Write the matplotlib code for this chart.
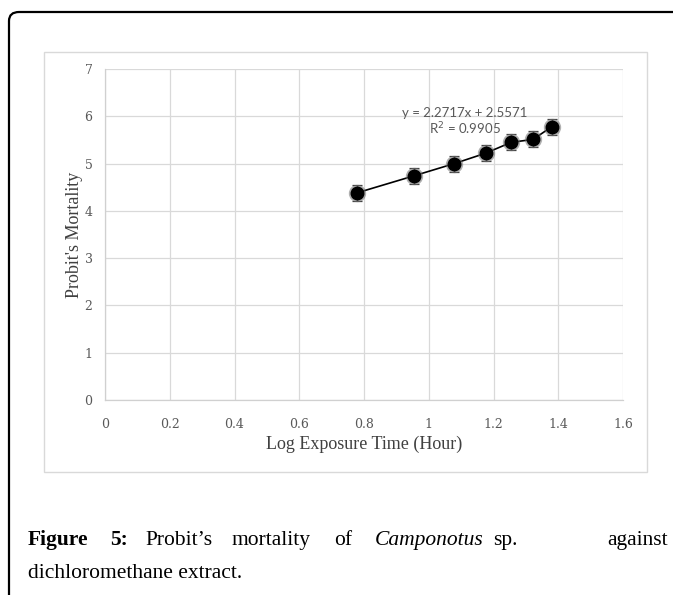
import matplotlib
matplotlib.use("Agg")
import matplotlib.pyplot as plt
from matplotlib.patches import FancyBboxPatch, Rectangle

log_time = [0.778, 0.954, 1.079, 1.176, 1.255, 1.322, 1.380]
probit = [4.38, 4.74, 5.00, 5.22, 5.45, 5.51, 5.78]
err = [0.17, 0.17, 0.17, 0.17, 0.17, 0.17, 0.17]
x_ticks = [0, 0.2, 0.4, 0.6, 0.8, 1, 1.2, 1.4, 1.6]
x_tick_labels = ["0", "0.2", "0.4", "0.6", "0.8", "1", "1.2", "1.4", "1.6"]
y_ticks = [0, 1, 2, 3, 4, 5, 6, 7]

W, H = 673, 595
fig = plt.figure(figsize=(W / 100, H / 100), dpi=100)

def fx(px):
    return px / W

def fy(py):
    return 1 - py / H

# outer rounded border (extends beyond right/bottom edges)
outer = FancyBboxPatch((fx(9), fy(640)), fx(720) - fx(9), fy(12) - fy(640),
                       boxstyle="round,pad=0,rounding_size=0.015",
                       transform=fig.transFigure, fill=False,
                       edgecolor="black", linewidth=1.6, clip_on=False)
fig.patches.append(outer)

# inner chart box
inner = Rectangle((fx(44), fy(472)), fx(647) - fx(44), fy(52) - fy(472),
                  transform=fig.transFigure, fill=False,
                  edgecolor="#d9d9d9", linewidth=1.0)
fig.patches.append(inner)

ax = fig.add_axes([fx(105), fy(400), fx(623) - fx(105), fy(69) - fy(400)])
ax.set_xlim(0, 1.6)
ax.set_ylim(0, 7)
ax.set_xticks(x_ticks)
ax.set_xticklabels(x_tick_labels)
ax.set_yticks(y_ticks)
ax.grid(True, color="#d9d9d9", linewidth=0.9)
ax.set_axisbelow(True)
for s in ["top", "right"]:
    ax.spines[s].set_visible(False)
for s in ["left", "bottom"]:
    ax.spines[s].set_color("#d0d0d0")
    ax.spines[s].set_linewidth(0.9)
ax.tick_params(axis="x", length=0, colors="#595959", pad=13)
ax.tick_params(axis="y", length=0, colors="#595959", pad=9)
for lab in ax.get_xticklabels() + ax.get_yticklabels():
    lab.set_fontfamily("DejaVu Serif")
    lab.set_fontsize(9)

ax.errorbar(log_time, probit, yerr=err, fmt="none", ecolor="#404040",
            elinewidth=0.9, capsize=3.5, capthick=0.9, zorder=3)
ax.plot(log_time, probit, color="black", linewidth=1.2, zorder=4)
ax.plot(log_time, probit, linestyle="none", marker="o", markersize=12.5,
        markerfacecolor="#707070", markeredgecolor="none", alpha=0.55, zorder=5)
ax.plot(log_time, probit, linestyle="none", marker="o", markersize=9,
        markerfacecolor="black", markeredgecolor="black", zorder=6)

ax.set_xlabel("Log Exposure Time (Hour)", fontfamily="Liberation Serif",
              fontsize=13, color="#404040", labelpad=3)
ax.set_ylabel("Probit's Mortality", fontfamily="Liberation Serif",
              fontsize=13, color="#404040", labelpad=1)

fig.text(fx(465), fy(113), "y = 2.2717x + 2.5571", ha="center", va="center",
         fontfamily="Lato", fontsize=9.5, color="#595959")
fig.text(fx(465), fy(129), "R$^2$ = 0.9905", ha="center", va="center",
         fontfamily="Lato", fontsize=9.5, color="#595959")

# caption, first line laid out word by word as in the reference
cap_fs = 15.5
line1 = [("Figure", "bold", "normal", 28, "left"),
         ("5:", "bold", "normal", 110, "left"),
         ("Probit\u2019s", "normal", "normal", 145, "left"),
         ("mortality", "normal", "normal", 232, "left"),
         ("of", "normal", "normal", 334, "left"),
         ("Camponotus", "normal", "italic", 375, "left"),
         ("sp.", "normal", "normal", 493, "left"),
         ("against", "normal", "normal", 668, "right")]
for w, weight, style, px, ha in line1:
    fig.text(fx(px), fy(545), w, ha=ha, va="baseline", fontfamily="Liberation Serif",
             fontsize=cap_fs, fontweight=weight, fontstyle=style, color="black")
fig.text(fx(28), fy(578), "dichloromethane extract.", ha="left", va="baseline",
         fontfamily="Liberation Serif", fontsize=cap_fs, color="black")

fig.savefig("out.png", dpi=100)
